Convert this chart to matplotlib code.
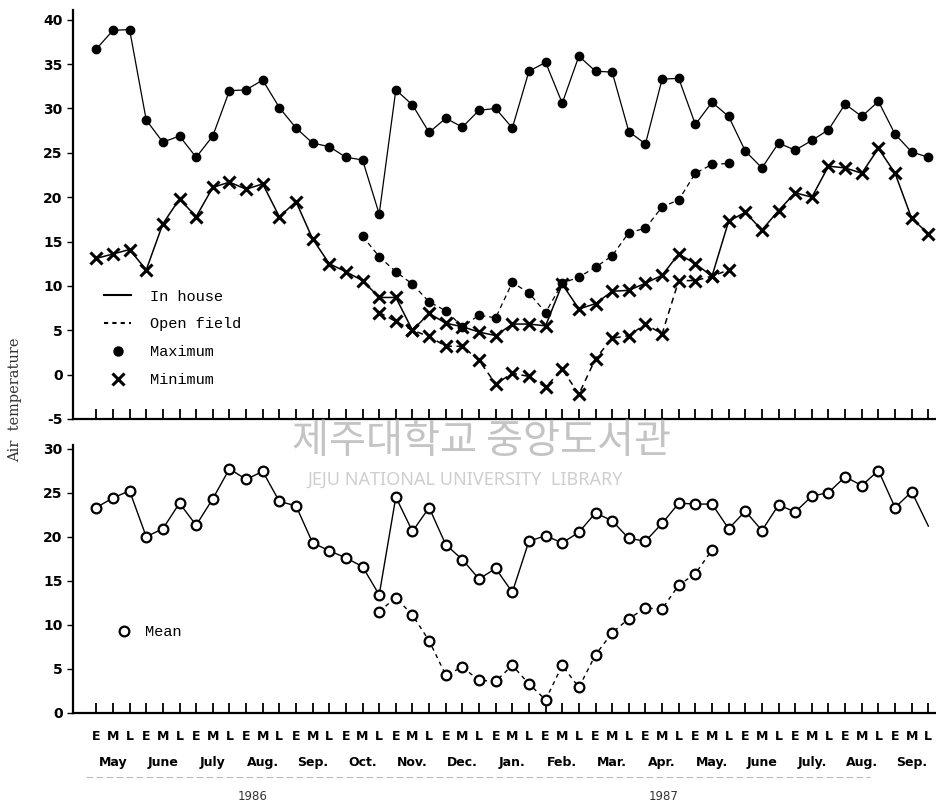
import numpy as np
import matplotlib
matplotlib.use("Agg")
import matplotlib.pyplot as plt
from matplotlib.lines import Line2D
import matplotlib.transforms as mtransforms

nan = np.nan
periods = ["E", "M", "L"] * 17
months = ["May", "June", "July", "Aug.", "Sep.", "Oct.", "Nov.", "Dec.", "Jan.",
          "Feb.", "Mar.", "Apr.", "May.", "June", "July.", "Aug.", "Sep."]
years = ["1986", "1987"]

house_max = [36.7, 38.8, 38.9, 28.7, 26.2, 26.9, 24.5, 26.9, 32.0, 32.1, 33.2, 30.1,
             27.8, 26.1, 25.7, 24.5, 24.2, 18.1, 32.1, 30.4, 27.3, 28.9, 27.9, 29.8,
             30.0, 27.8, 34.2, 35.2, 30.6, 35.9, 34.2, 34.1, 27.4, 26.0, 33.3, 33.4,
             28.2, 30.7, 29.1, 25.2, 23.3, 26.1, 25.3, 26.4, 27.6, 30.5, 29.1, 30.8,
             27.1, 25.1, 24.5]
open_max = [nan] * 16 + [15.6, 13.3, 11.6, 10.2, 8.2, 7.2, 5.4, 6.7, 6.4, 10.4, 9.2,
                         7.0, 10.3, 11.0, 12.1, 13.4, 16.0, 16.5, 18.9, 19.7, 22.7,
                         23.7, 23.8] + [nan] * 12
house_min = [13.1, 13.6, 14.1, 11.8, 17.0, 19.8, 17.8, 21.1, 21.7, 20.9, 21.5, 17.8,
             19.5, 15.3, 12.5, 11.6, 10.6, 8.7, 8.7, 5.0, 6.9, 5.8, 5.4, 4.8,
             4.4, 5.7, 5.7, 5.5, 10.2, 7.4, 8.0, 9.4, 9.5, 10.3, 11.2, 13.6,
             12.5, 11.1, 17.3, 18.3, 16.3, 18.5, 20.5, 20.0, 23.5, 23.3, 22.7, 25.5,
             22.7, 17.6, 15.9]
open_min = [nan] * 17 + [7.0, 6.0, 5.0, 4.3, 3.2, 3.2, 1.6, -1.05, 0.15, -0.2, -1.4,
                         0.6, -2.2, 1.8, 4.1, 4.4, 5.7, 4.6, 10.6, 10.6, 11.1,
                         11.8] + [nan] * 12
house_mean = [23.3, 24.4, 25.2, 20.0, 20.9, 23.8, 21.3, 24.3, 27.7, 26.5, 27.4, 24.0,
              23.5, 19.3, 18.4, 17.6, 16.6, 13.4, 24.5, 20.6, 23.3, 19.1, 17.4, 15.2,
              16.4, 13.7, 19.5, 20.1, 19.3, 20.5, 22.7, 21.8, 19.8, 19.5, 21.5, 23.8,
              23.7, 23.7, 20.9, 22.9, 20.7, 23.6, 22.8, 24.6, 25.0, 26.8, 25.8, 27.5,
              23.3, 25.1, 21.2]
open_mean = [nan] * 17 + [11.5, 13.1, 11.1, 8.2, 4.3, 5.2, 3.7, 3.6, 5.4, 3.3, 1.5,
                          5.4, 2.9, 6.6, 9.1, 10.7, 11.9, 11.8, 14.5, 15.8,
                          18.5] + [nan] * 13

x = np.arange(len(periods))

fig = plt.figure(figsize=(9.37, 8.07), dpi=100)
W, H = 937, 807
ax1 = fig.add_axes([73 / W, (H - 419) / H, 862 / W, 409 / H])
ax2 = fig.add_axes([73 / W, (H - 713) / H, 862 / W, 268 / H])

tick_font = dict(fontfamily="DejaVu Sans", fontweight="bold", fontsize=10)

for ax in (ax1, ax2):
    ax.set_xlim(-1.4, 50.4)
    for s in ("top", "right"):
        ax.spines[s].set_visible(False)
    for s in ("left", "bottom"):
        ax.spines[s].set_linewidth(1.6)
    ax.set_xticks(x)
    ax.tick_params(axis="x", direction="in", length=7, width=1.3)
    ax.tick_params(axis="y", direction="out", length=4, width=1.0)

# top panel
kw_max = dict(marker="o", ms=6, mfc="k", mec="k", color="k", lw=0.9)
kw_min = dict(marker="x", ms=8.5, mew=2.2, color="k", lw=1.1)
ax1.plot(x, house_max, ls="-", **kw_max)
ax1.plot(x, open_max, ls=(0, (4, 3)), **kw_max)
ax1.plot(x, house_min, ls="-", **kw_min)
ax1.plot(x, open_min, ls=(0, (4, 3)), **kw_min)
ax1.set_ylim(-5, 41.1)
ax1.set_yticks(np.arange(-5, 41, 5))
ax1.set_yticklabels([str(v) for v in range(-5, 41, 5)], **tick_font)
ax1.set_xticklabels([])

handles = [Line2D([], [], color="k", ls="-", lw=1.5),
           Line2D([], [], color="k", ls=(0, (2, 2)), lw=1.5),
           Line2D([], [], color="k", ls="none", marker="o", ms=6.5),
           Line2D([], [], color="k", ls="none", marker="x", ms=8, mew=2.2)]
ax1.legend(handles, ["In house", "Open field", "Maximum", "Minimum"],
           loc="upper left", bbox_to_anchor=(0.02, 0.35), frameon=False,
           prop=dict(family="Liberation Mono", size=11), handlelength=1.8,
           labelspacing=0.9, handletextpad=1.2)

# bottom panel
kw_mean = dict(marker="o", ms=7, mfc="white", mec="k", mew=1.6, color="k", lw=1.0)
ax2.plot(x, house_mean, ls="-", markevery=list(range(len(x) - 1)), **kw_mean)
ax2.plot(x, open_mean, ls=(0, (3, 3)), **kw_mean)
ax2.set_ylim(0, 30.4)
ax2.set_yticks(np.arange(0, 31, 5))
ax2.set_yticklabels([str(v) for v in range(0, 31, 5)], **tick_font)
ax2.set_xticklabels(periods, fontfamily="DejaVu Sans", fontweight="bold", fontsize=9)
ax2.tick_params(axis="x", pad=12)
ax2.legend([Line2D([], [], color="k", ls="none", marker="o", ms=7, mfc="white", mew=1.6)],
           ["Mean"], loc="upper left", bbox_to_anchor=(0.025, 0.38), frameon=False,
           prop=dict(family="Liberation Mono", size=11), handletextpad=0.4)

trans = mtransforms.blended_transform_factory(ax2.transData, ax2.transAxes)
for i, m in enumerate(months):
    ax2.text(3 * i + 1, -0.185, m, transform=trans, ha="center", va="center",
             fontfamily="DejaVu Sans", fontweight="bold", fontsize=9)
ax2.plot([-0.6, 46.5], [-0.238, -0.238], transform=trans, color="#bbbbbb",
         lw=0.8, ls=(0, (6, 3)), clip_on=False)
for xi, yr in zip([9.4, 34.1], years):
    ax2.text(xi, -0.31, yr, transform=trans, ha="center", va="center",
             fontfamily="DejaVu Sans", fontsize=8.5, color="#333333")

fig.text(15 / W, 1 - 400 / H, "Air  temperature", rotation=90, ha="center",
         va="center", fontfamily="DejaVu Serif", fontsize=10.5, color="#333333")

# watermark from the scanned source
fig.text(482 / W, 1 - 441 / H, "제주대학교 중앙도서관", ha="center", va="center",
         fontfamily="Noto Sans CJK KR", fontsize=29, color="#c4c4c4", zorder=0)
fig.text(465 / W, 1 - 480 / H, "JEJU NATIONAL UNIVERSITY  LIBRARY", ha="center",
         va="center", fontfamily="Noto Sans", fontsize=13, color="#cfcfcf", zorder=0)

fig.savefig("out.png", dpi=100)
